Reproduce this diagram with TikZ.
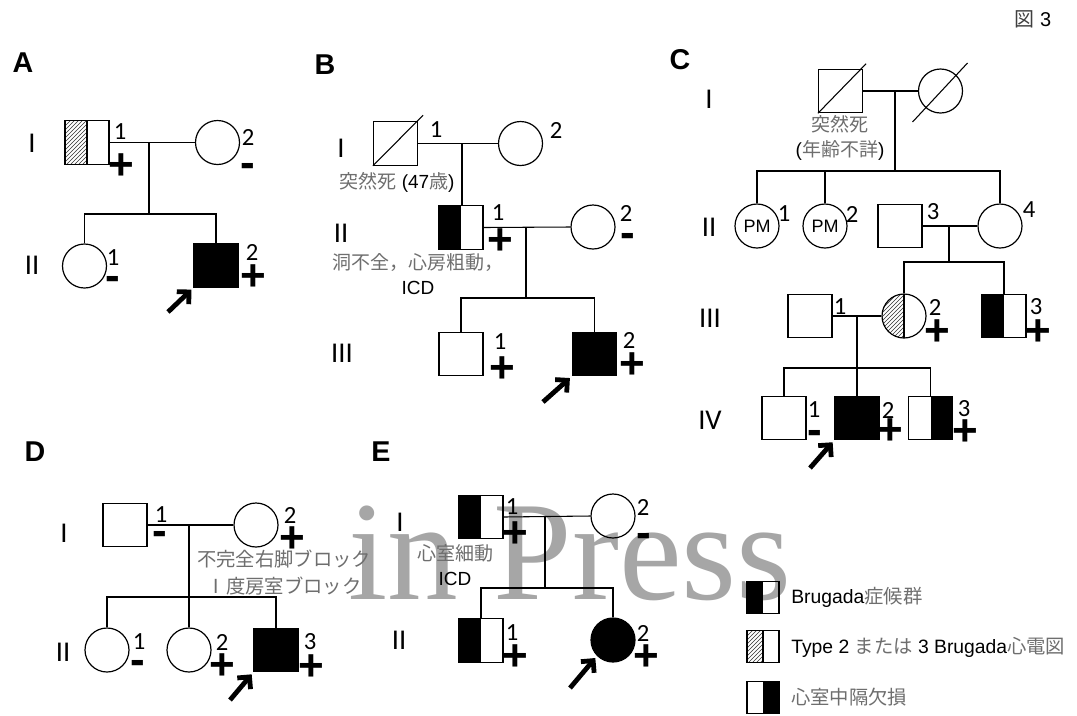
\documentclass[tikz,border=0pt]{standalone}
\usepackage{fontspec}
\newfontfamily\arial{Liberation Sans}
\newfontfamily\jfont{Noto Sans CJK JP}
\newfontfamily\calfont{Carlito}
\newfontfamily\timesf{Liberation Serif}
\usetikzlibrary{patterns,arrows.meta,calc}
\definecolor{jgrey}{HTML}{6E6E6E}
\definecolor{wmgrey}{HTML}{A6A6A6}
\newcommand\jtxt[1]{{\jfont\color{jgrey}#1}}
\begin{document}
\begin{tikzpicture}[x=0.75pt,y=-0.75pt,
  sq/.style={draw,line width=0.9pt,rectangle,minimum width=33pt,minimum height=32.5pt,inner sep=0pt},
  lsq/.style={draw,line width=0.9pt,rectangle,minimum width=24pt,minimum height=23.5pt,inner sep=0pt},
  ci/.style={draw,line width=0.9pt,circle,minimum size=33pt,inner sep=0pt},
  leftblack/.style={path picture={\fill[black] (path picture bounding box.south west) rectangle (path picture bounding box.north);}},
  rightblack/.style={path picture={\fill[black] (path picture bounding box.south) rectangle (path picture bounding box.north east);}},
  lefthatch/.style={path picture={\fill[pattern=north east lines,pattern color=black!80] (path picture bounding box.south west) rectangle (path picture bounding box.north);\draw[line width=0.9pt] (path picture bounding box.south) -- (path picture bounding box.north);}},
  num/.style={font=\calfont\fontsize{18.5}{18.5}\selectfont,inner sep=0pt},
  sgn/.style={font=\arial\bfseries\fontsize{33}{33}\selectfont,inner sep=0pt},
  gen/.style={font=\calfont\fontsize{21.5}{21.5}\selectfont,inner sep=0pt},
  panel/.style={font=\arial\bfseries\fontsize{21.5}{21.5}\selectfont,inner sep=0pt},
  note/.style={font=\arial\fontsize{14.25}{18.75}\selectfont,align=center,inner sep=0pt},
  line/.style={line width=0.8pt},
  dead/.style={line width=0.8pt},
  proband/.style={line width=3.6pt,-{Straight Barb[length=6.5pt,width=13pt]},shorten >=2pt},
  legtext/.style={font=\arial\fontsize{14.5}{14.5}\selectfont,anchor=west,inner sep=0pt}
]
\useasboundingbox (0,0) rectangle (1077,715);
\fill[white] (0,0) rectangle (1077,715);

% watermark
\node[font=\timesf\fontsize{106}{106}\selectfont,text=wmgrey,anchor=base west,inner sep=0pt] (wm) at (348,599) {in Press};

% figure number
\node[inner sep=0pt,font=\arial\fontsize{15}{15}\selectfont] (fig) at (1033,19) {{\jfont\color{black!75}図} 3};

% ---------------- Panel A ----------------
\node[panel] (pA) at (23,63) {A};
\node[gen] (gAI) at (32,143) {I};
\node[gen] (gAII) at (32,265) {II};
\node[sq,lefthatch] (a11) at (87,142.5) {};
\node[ci] (a12) at (217.5,142.5) {};
\node[num] (na11) at (120,132) {1};
\node[sgn] (sa11) at (121,167) {+};
\node[num] (na12) at (248,137) {2};
\node[sgn] (sa12) at (248,170) {-};
\coordinate (am) at (149,142.5);
\coordinate (asib) at (149,214);
\node[ci] (a21) at (84.5,266) {};
\node[sq,fill=black] (a22) at (216,265.5) {};
\node[num] (na21) at (113,258) {1};
\node[sgn] (sa21) at (113,283) {-};
\node[num] (na22) at (252,252) {2};
\node[sgn] (sa22) at (253,278) {+};
\draw[line] (a11.east) -- (a12.west);
\draw[line] (am) -- (asib);
\draw[line] (a21.north) |- (asib) -| (a22.north);
\coordinate (aarr) at (168,312);
\draw[proband] (aarr) -- (a22.south west);

% ---------------- Panel B ----------------
\node[panel] (pB) at (325,65) {B};
\node[gen] (gBI) at (341,148) {I};
\node[gen] (gBII) at (341,233) {II};
\node[gen] (gBIII) at (342,353) {III};
\node[sq] (b11) at (395.5,143.5) {};
\draw[dead] (b11.south west) -- ($(b11.north east)+(5,-6)$);
\node[ci] (b12) at (520.5,143.5) {};
\node[num] (nb11) at (436,130) {1};
\node[num] (nb12) at (556,130) {2};
\coordinate (bm) at (462,143.5);
\node[note] (tb11) at (397,182) {\jtxt{突然死} (47\jtxt{歳})};
\node[sq,leftblack] (b21) at (461,227.5) {};
\node[ci] (b22) at (593,227) {};
\node[num] (nb21) at (498,213) {1};
\node[sgn] (sb21) at (500,242) {+};
\node[num] (nb22) at (626,213) {2};
\node[sgn] (sb22) at (628,240) {-};
\node[note] (tb21) at (418,274.5) {\jtxt{洞不全，心房粗動，}\\ICD};
\coordinate (b2m) at (526,227.5);
\coordinate (bsib) at (526,298);
\node[sq] (b31) at (461,354) {};
\node[sq,fill=black] (b32) at (594.5,354) {};
\node[num] (nb31) at (500,342) {1};
\node[sgn] (sb31) at (502,370) {+};
\node[num] (nb32) at (629,340) {2};
\node[sgn] (sb32) at (632,366) {+};
\draw[line] (b11.east) -- (b12.west);
\draw[line] (bm) -- (bm |- b21.north);
\draw[line] (b21.east) -- (b22.west);
\draw[line] (b2m) -- (bsib);
\draw[line] (b31.north) |- (bsib) -| (b32.north);
\coordinate (barr) at (543,402);
\draw[proband] (barr) -- (b32.south west);

% ---------------- Panel C ----------------
\node[panel] (pC) at (680,60) {C};
\node[gen] (gCI) at (709,99) {I};
\node[gen] (gCII) at (709,227) {II};
\node[gen] (gCIII) at (710,318) {III};
\node[gen] (gCIV) at (710,420) {IV};
\node[sq] (c11) at (840.5,91) {};
\draw[dead] (c11.south west) -- ($(c11.north east)+(3,-5)$);
\node[ci] (c12) at (940.5,91) {};
\draw[dead] ($(c12.center)+(-28,31)$) -- ($(c12.center)+(27,-28)$);
\coordinate (cm) at (895,91);
\coordinate (csib1) at (895,171);
\node[note] (tc11) at (840,137.5) {\jtxt{突然死}\\(\jtxt{年齢不詳})};
\node[ci,font=\arial\fontsize{13.5}{13.5}\selectfont] (c21) at (757,226) {PM};
\node[ci,font=\arial\fontsize{13.5}{13.5}\selectfont] (c22) at (825,226) {PM};
\node[sq] (c23) at (900,226) {};
\node[ci] (c24) at (1000,226) {};
\node[num] (nc21) at (784,214) {1};
\node[num] (nc22) at (852,214) {2};
\node[num] (nc23) at (933,212) {3};
\node[num] (nc24) at (1029,210) {4};
\coordinate (c2m) at (949,226);
\coordinate (csib2) at (949,262);
\node[sq] (c31) at (810,316) {};
\node[ci,lefthatch] (c32) at (904,316) {};
\node[sq,leftblack] (c33) at (1004,316) {};
\node[num] (nc31) at (840,307) {1};
\node[num] (nc32) at (935,307) {2};
\node[sgn] (sc32) at (937,333) {+};
\node[num] (nc33) at (1036,307) {3};
\node[sgn] (sc33) at (1038,333) {+};
\coordinate (c3m) at (857,316);
\coordinate (csib3) at (857,368);
\node[sq] (c41) at (784,418) {};
\node[sq,fill=black] (c42) at (857,418) {};
\node[sq,rightblack] (c43) at (930.5,418) {};
\node[num] (nc41) at (814,410) {1};
\node[sgn] (sc41) at (815,437) {-};
\node[num] (nc42) at (888,410) {2};
\node[sgn] (sc42) at (890,432) {+};
\node[num] (nc43) at (964,409) {3};
\node[sgn] (sc43) at (965,433) {+};
\draw[line] (c11.east) -- (c12.west);
\draw[line] (cm) -- (csib1);
\draw[line] (c21.north) |- (csib1) -| (c24.north);
\draw[line] (c22.north) -- (c22.north |- csib1);
\draw[line] (c23.east) -- (c24.west);
\draw[line] (c2m) -- (csib2);
\draw[line] (c32.north) |- (csib2) -| (c33.north);
\draw[line] (c31.east) -- (c32.west);
\draw[line] (c3m) -- (c42.north);
\draw[line] (c41.north) |- (csib3) -| (c43.north);
\coordinate (carr) at (810,468);
\draw[proband] (carr) -- (c42.south west);

% ---------------- Panel D ----------------
\node[panel] (pD) at (35,452) {D};
\node[gen] (gDI) at (64,533) {I};
\node[gen] (gDII) at (63,652) {II};
\node[sq] (d11) at (125,525) {};
\node[ci] (d12) at (256,525) {};
\node[num] (nd11) at (161,515) {1};
\node[sgn] (sd11) at (160,538) {-};
\node[num] (nd12) at (290,515) {2};
\node[sgn] (sd12) at (292,540) {+};
\coordinate (dm) at (189,525);
\coordinate (dsib) at (189,597);
\node[note,font=\jfont\fontsize{14.5}{20.25}\selectfont,text=jgrey] (td12) at (284,573) {不完全右脚ブロック\\Ⅰ度房室ブロック};
\node[ci] (d21) at (107,650) {};
\node[ci] (d22) at (189,650) {};
\node[sq,fill=black] (d23) at (276,650) {};
\node[num] (nd21) at (139,642) {1};
\node[sgn] (sd21) at (138,667) {-};
\node[num] (nd22) at (222,642) {2};
\node[sgn] (sd22) at (222,667) {+};
\node[num] (nd23) at (310,642) {3};
\node[sgn] (sd23) at (311,668) {+};
\draw[line] (d11.east) -- (d12.west);
\draw[line] (dm) -- (d22.north);
\draw[line] (d21.north) |- (dsib) -| (d23.north);
\coordinate (darr) at (230,700);
\draw[proband] (darr) -- (d23.south west);

% ---------------- Panel E ----------------
\node[panel] (pE) at (381,452) {E};
\node[gen] (gEI) at (400,522) {I};
\node[gen] (gEII) at (399,640) {II};
\node[sq,leftblack] (e11) at (481,517) {};
\node[ci] (e12) at (613,516) {};
\node[num] (ne11) at (512,507) {1};
\node[sgn] (se11) at (515,535) {+};
\node[num] (ne12) at (643,507) {2};
\node[sgn] (se12) at (644,540) {-};
\coordinate (em) at (545,516);
\coordinate (esib) at (545,588);
\node[note] (te11) at (455,565) {\jtxt{心室細動}\\ICD};
\node[sq,leftblack] (e21) at (481,640.5) {};
\node[ci,fill=black] (e22) at (613,640) {};
\node[num] (ne21) at (512,633) {1};
\node[sgn] (se21) at (515,658) {+};
\node[num] (ne22) at (643,633) {2};
\node[sgn] (se22) at (646,658) {+};
\draw[line] (e11.east) -- (e12.west);
\draw[line] (em) -- (esib);
\draw[line] (e21.north) |- (esib) -| (e22.north);
\coordinate (earr) at (570,688);
\draw[proband] (earr) -- (e22.south west);

% ---------------- Legend ----------------
\node[lsq,leftblack] (l1) at (763,597.5) {};
\node[lsq,lefthatch] (l2) at (763,646.5) {};
\node[lsq,rightblack] (l3) at (763,697.5) {};
\node[legtext] (lt1) at (791,597) {Brugada\jtxt{症候群}};
\node[legtext] (lt2) at (791,647) {Type 2 \jtxt{または} 3 Brugada\jtxt{心電図}};
\node[legtext] (lt3) at (791,697) {\jtxt{心室中隔欠損}};
\end{tikzpicture}
\end{document}
